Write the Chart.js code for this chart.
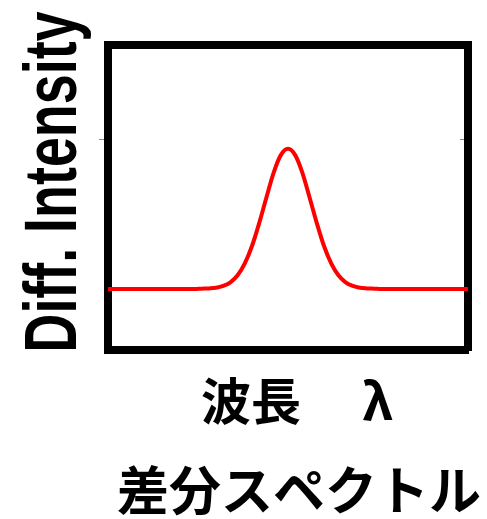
<!DOCTYPE html>
<html lang="ja">
<head>
<meta charset="utf-8">
<title>差分スペクトル</title>
<script src="https://cdn.jsdelivr.net/npm/chart.js@4"></script>
<style>
  html, body { margin: 0; padding: 0; background: #fff; }
  #grafico { display: block; }
</style>
</head>
<body>
<canvas id="grafico" width="487" height="519"></canvas>
<script>
// --- DADOS DO ESPECTRO ---
const comprimentoOnda = [0, 2, 4, 6, 8, 10, 12, 14, 16, 18, 20, 22, 24, 26, 28, 30, 32, 34, 36, 38, 40, 42, 44, 46, 48,
  50, 52, 54, 56, 58, 60, 62, 64, 66, 68, 70, 72, 74, 76, 78, 80, 82, 84, 86, 88, 90, 92, 94, 96, 98, 100];
const intensidadeDif = [0.2, 0.2, 0.2, 0.2, 0.2, 0.2, 0.2, 0.2, 0.2, 0.2, 0.2, 0.2, 0.2,
  0.201, 0.202, 0.204, 0.21, 0.222, 0.245, 0.284, 0.341, 0.416, 0.5, 0.581, 0.639,
  0.66,
  0.639, 0.581, 0.5, 0.416, 0.341, 0.284, 0.245, 0.222, 0.21, 0.204, 0.202, 0.201,
  0.2, 0.2, 0.2, 0.2, 0.2, 0.2, 0.2, 0.2, 0.2, 0.2, 0.2, 0.2, 0.2];
const marcasY = [0.69];

// --- TEXTOS ---
const tituloY = 'Diff. Intensity';
const tituloX = '波長　 λ';
const tituloGrafico = '差分スペクトル';

const pontos = comprimentoOnda.map((x, i) => ({ x: x, y: intensidadeDif[i] }));

// eixos sem espaço próprio: a área do gráfico fica só com o padding
const semEspacoX = s => { s.height = 0; };
const semEspacoY = s => { s.width = 0; };
const soMarcas = s => { s.ticks = marcasY.map(v => ({ value: v })); };

const bordaGrossa = { display: true, width: 8, color: '#000' };

// desenha os títulos (o do eixo Y vai comprimido na horizontal)
const textosEixos = {
  id: 'textosEixos',
  afterDraw(chart) {
    const ctx = chart.ctx;
    ctx.save();
    ctx.fillStyle = '#000';

    ctx.font = 'bold 75px "Liberation Sans", Arial, sans-serif';
    const larg = ctx.measureText(tituloY).width;
    ctx.translate(76, 182);
    ctx.rotate(-Math.PI / 2);
    ctx.scale(341 / larg, 1);
    ctx.textAlign = 'center';
    ctx.textBaseline = 'alphabetic';
    ctx.fillText(tituloY, 0, 0);
    ctx.restore();

    ctx.save();
    ctx.fillStyle = '#000';
    ctx.textBaseline = 'alphabetic';
    ctx.font = 'bold 50px "Noto Sans CJK JP", sans-serif';
    ctx.textAlign = 'left';
    ctx.fillText(tituloX, 201, 420);

    ctx.font = 'bold 52px "Noto Sans CJK JP", sans-serif';
    ctx.textAlign = 'center';
    ctx.fillText(tituloGrafico, 299, 510);
    ctx.restore();
  }
};

new Chart(document.getElementById('grafico'), {
  type: 'line',
  data: {
    datasets: [{
      data: pontos,
      borderColor: '#ff0000',
      borderWidth: 4,
      pointRadius: 0,
      cubicInterpolationMode: 'monotone',
      fill: false
    }]
  },
  options: {
    responsive: false,
    animation: false,
    events: [],
    layout: { padding: { left: 108, right: 19, top: 45, bottom: 169 } },
    plugins: {
      legend: { display: false },
      tooltip: { enabled: false },
      title: { display: false }
    },
    scales: {
      x: {
        type: 'linear', position: 'bottom', min: 0, max: 100,
        ticks: { display: false }, grid: { display: false },
        border: bordaGrossa, afterFit: semEspacoX
      },
      x2: {
        type: 'linear', position: 'top', min: 0, max: 100,
        ticks: { display: false }, grid: { display: false },
        border: bordaGrossa, afterFit: semEspacoX
      },
      y: {
        type: 'linear', position: 'left', min: 0, max: 1,
        ticks: { display: false },
        grid: { drawOnChartArea: false, drawTicks: true, tickLength: 9, color: '#888', lineWidth: 1 },
        border: bordaGrossa, afterBuildTicks: soMarcas, afterFit: semEspacoY
      },
      y2: {
        type: 'linear', position: 'right', min: 0, max: 1,
        ticks: { display: false },
        grid: { drawOnChartArea: false, drawTicks: true, tickLength: -8, color: '#888', lineWidth: 1 },
        border: bordaGrossa, afterBuildTicks: soMarcas, afterFit: semEspacoY
      }
    }
  },
  plugins: [textosEixos]
});
</script>
</body>
</html>
